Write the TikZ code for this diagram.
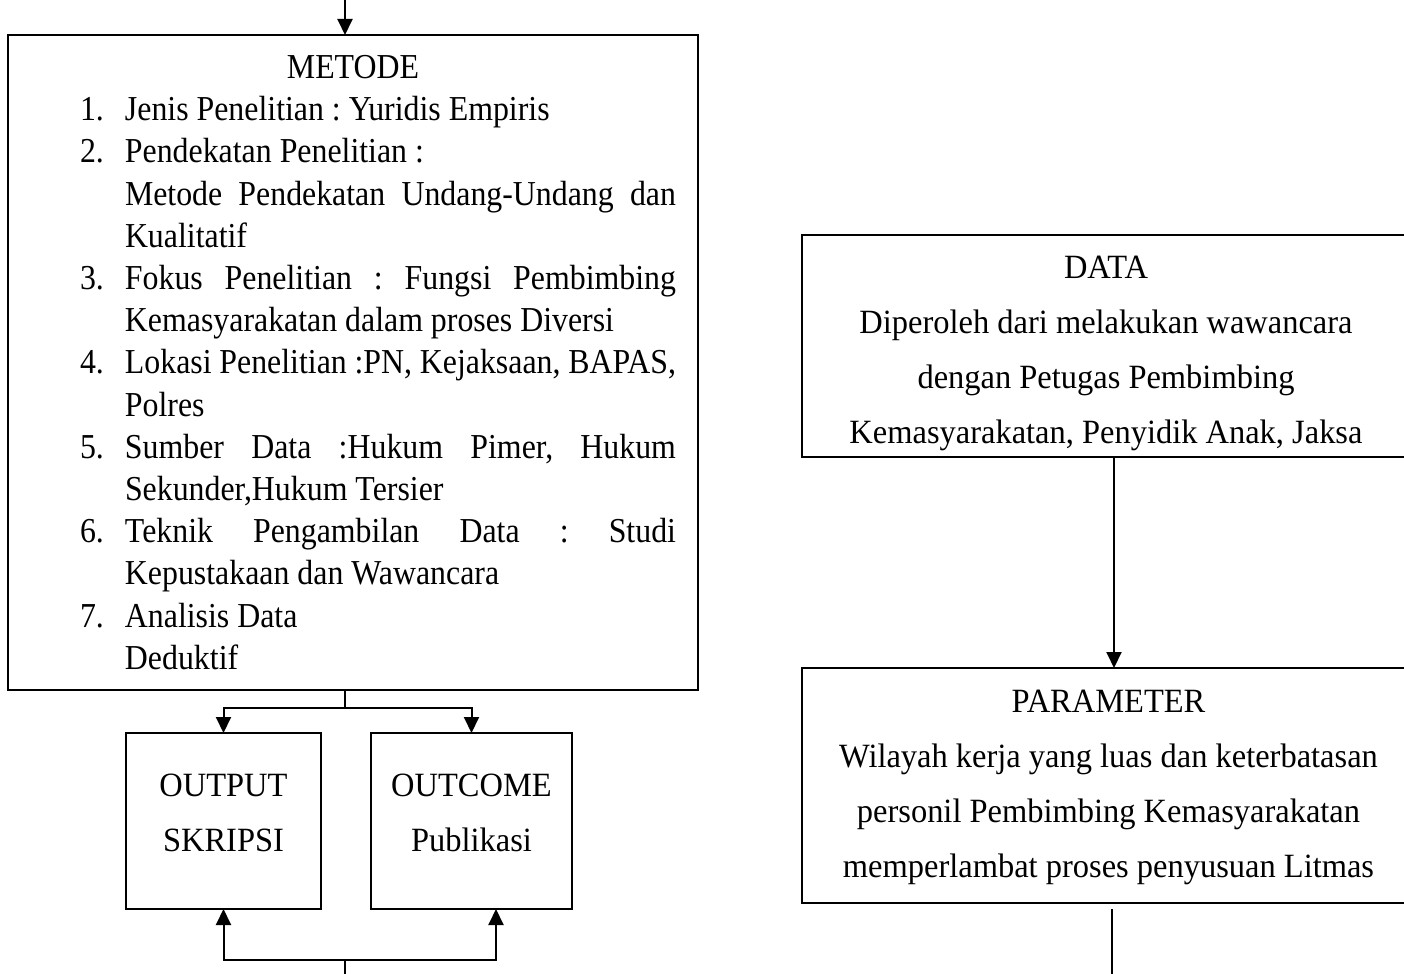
\documentclass[tikz,border=0pt]{standalone}
\usepackage{fontspec}
\setmainfont{Liberation Serif}
\newfontfamily\leftfont[FakeStretch=0.91]{Liberation Serif}
\newfontfamily\rightfont[FakeStretch=0.955]{Liberation Serif}
\usetikzlibrary{arrows.meta}
\newcommand{\mitem}[2]{\hbox to 298pt{\hbox to 22.5pt{#1\hfil}#2}}
\newcommand{\jline}[1]{\makebox[275.5pt][s]{#1}}
\newcommand{\lline}[1]{\makebox[275.5pt][l]{#1}}
\tikzset{
  box/.style={draw, line width=1.4pt, inner sep=0pt, outer sep=0pt, anchor=north west},
  conn/.style={line width=1pt},
  arr/.style={line width=1pt, -{Triangle[length=8pt,width=7.5pt]}},
  rtxt/.style={align=center, inner sep=0pt, font=\rightfont\fontsize{17}{27.5}\selectfont},
}
\begin{document}
\begin{tikzpicture}[x=0.5pt,y=-0.5pt]
\useasboundingbox (0,0) rectangle (1404,974);
\clip (0,0) rectangle (1404,974);
% left column
\node[box, minimum width=345pt, minimum height=327.5pt,
      font=\leftfont\fontsize{17.5}{21.1}\selectfont\frenchspacing] (metode) at (8,35) {%
  \vbox{\hsize=345pt
    \hbox to 345pt{\hfil METODE\hfil}
    \hbox to 345pt{\hskip36pt\vtop{\hsize=298pt
      \mitem{1.}{\lline{Jenis Penelitian : Yuridis Empiris}}
      \mitem{2.}{\lline{Pendekatan Penelitian :}}
      \mitem{}{\jline{Metode Pendekatan Undang-Undang dan}}
      \mitem{}{\lline{Kualitatif}}
      \mitem{3.}{\jline{Fokus Penelitian : Fungsi Pembimbing}}
      \mitem{}{\lline{Kemasyarakatan dalam proses Diversi}}
      \mitem{4.}{\jline{Lokasi Penelitian :PN, Kejaksaan, BAPAS,}}
      \mitem{}{\lline{Polres}}
      \mitem{5.}{\jline{Sumber Data :Hukum Pimer, Hukum}}
      \mitem{}{\lline{Sekunder,Hukum Tersier}}
      \mitem{6.}{\jline{Teknik Pengambilan Data : Studi}}
      \mitem{}{\lline{Kepustakaan dan Wawancara}}
      \mitem{7.}{\lline{Analisis Data}}
      \mitem{}{\lline{Deduktif}}}\hfil}}};
\node[box, minimum width=97.5pt, minimum height=88pt] (output) at (126,733) {};
\node[box, minimum width=100.5pt, minimum height=88pt] (outcome) at (371,733) {};
\node[rtxt] (outputtxt) at (223.5,812.5) {OUTPUT\\SKRIPSI};
\node[rtxt] (outcometxt) at (471.5,812.5) {OUTCOME\\Publikasi};
\coordinate (top) at (345,0);
\coordinate (split) at (345,708);
\coordinate (join) at (345,960);
\coordinate (bot) at (345,974);
\coordinate (ocx) at (496,960);
\draw[arr] (top) -- (top |- metode.north);
\draw[conn] (top |- metode.south) -- (split);
\draw[arr] (split) -| (output.north);
\draw[arr] (split) -| (outcome.north);
\draw[conn] (bot) -- (join);
\draw[arr] (join) -| (output.south);
\draw[arr] (join) -- (ocx) -- (ocx |- outcome.south);
% right column
\node[box, minimum width=303pt, minimum height=111pt] (data) at (802,235) {};
\node[rtxt] (datatxt) at (1106,353) {DATA\\Diperoleh dari melakukan wawancara\\dengan Petugas Pembimbing\\Kemasyarakatan, Penyidik Anak, Jaksa};
\node[box, minimum width=303pt, minimum height=117.5pt] (param) at (802,668) {};
\node[rtxt] (paramtxt) at (1108.5,787) {PARAMETER\\Wilayah kerja yang luas dan keterbatasan\\personil Pembimbing Kemasyarakatan\\memperlambat proses penyusuan Litmas};
\coordinate (dx) at (1114,560);
\coordinate (pbot) at (1112,974);
\coordinate (pstart) at (1112,909);
\draw[arr] (dx |- data.south) -- (dx |- param.north);
\draw[conn] (pstart) -- (pbot);
\end{tikzpicture}
\end{document}
